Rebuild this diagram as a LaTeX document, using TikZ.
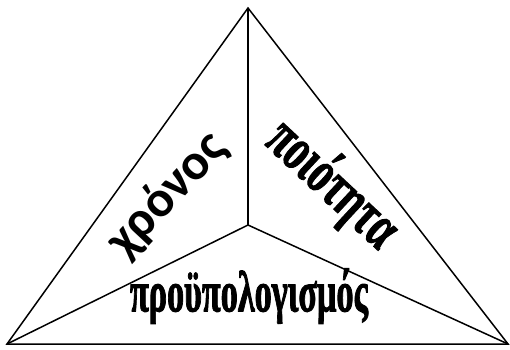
\documentclass[tikz,border=0pt]{standalone}
\usepackage{graphicx}
\usepackage{fontspec}
\setmainfont{Liberation Serif}[BoldFeatures={FakeBold=2}]
\newfontfamily\sansgr{Carlito}
\begin{document}
\begin{tikzpicture}[x=1pt,y=-1pt,
  edge/.style={line width=1.5pt, line join=miter},
  lbl/.style={inner sep=0pt, anchor=center}]
\useasboundingbox (0,0) rectangle (510,349);
\coordinate (T) at (248,8);
\coordinate (L) at (7,344);
\coordinate (R) at (508,344);
\coordinate (C) at (248,225);
\draw[edge] (T) -- (L) -- (R) -- cycle;
\draw[edge] (T) -- (C);
\draw[edge] (C) -- (L);
\draw[edge] (C) -- (R);
\node[lbl, rotate=47] (chronos) at (167,195) {\resizebox{150pt}{!}{\sansgr\bfseries χρόνος}};
\node[lbl, rotate=-43] (poiotita) at (332,185) {\resizebox{158pt}{46pt}{\bfseries ποιότητα}};
\node[lbl] (proypol) at (249,296) {\resizebox{238pt}{43pt}{\bfseries προϋπολογισμός}};
\end{tikzpicture}
\end{document}
